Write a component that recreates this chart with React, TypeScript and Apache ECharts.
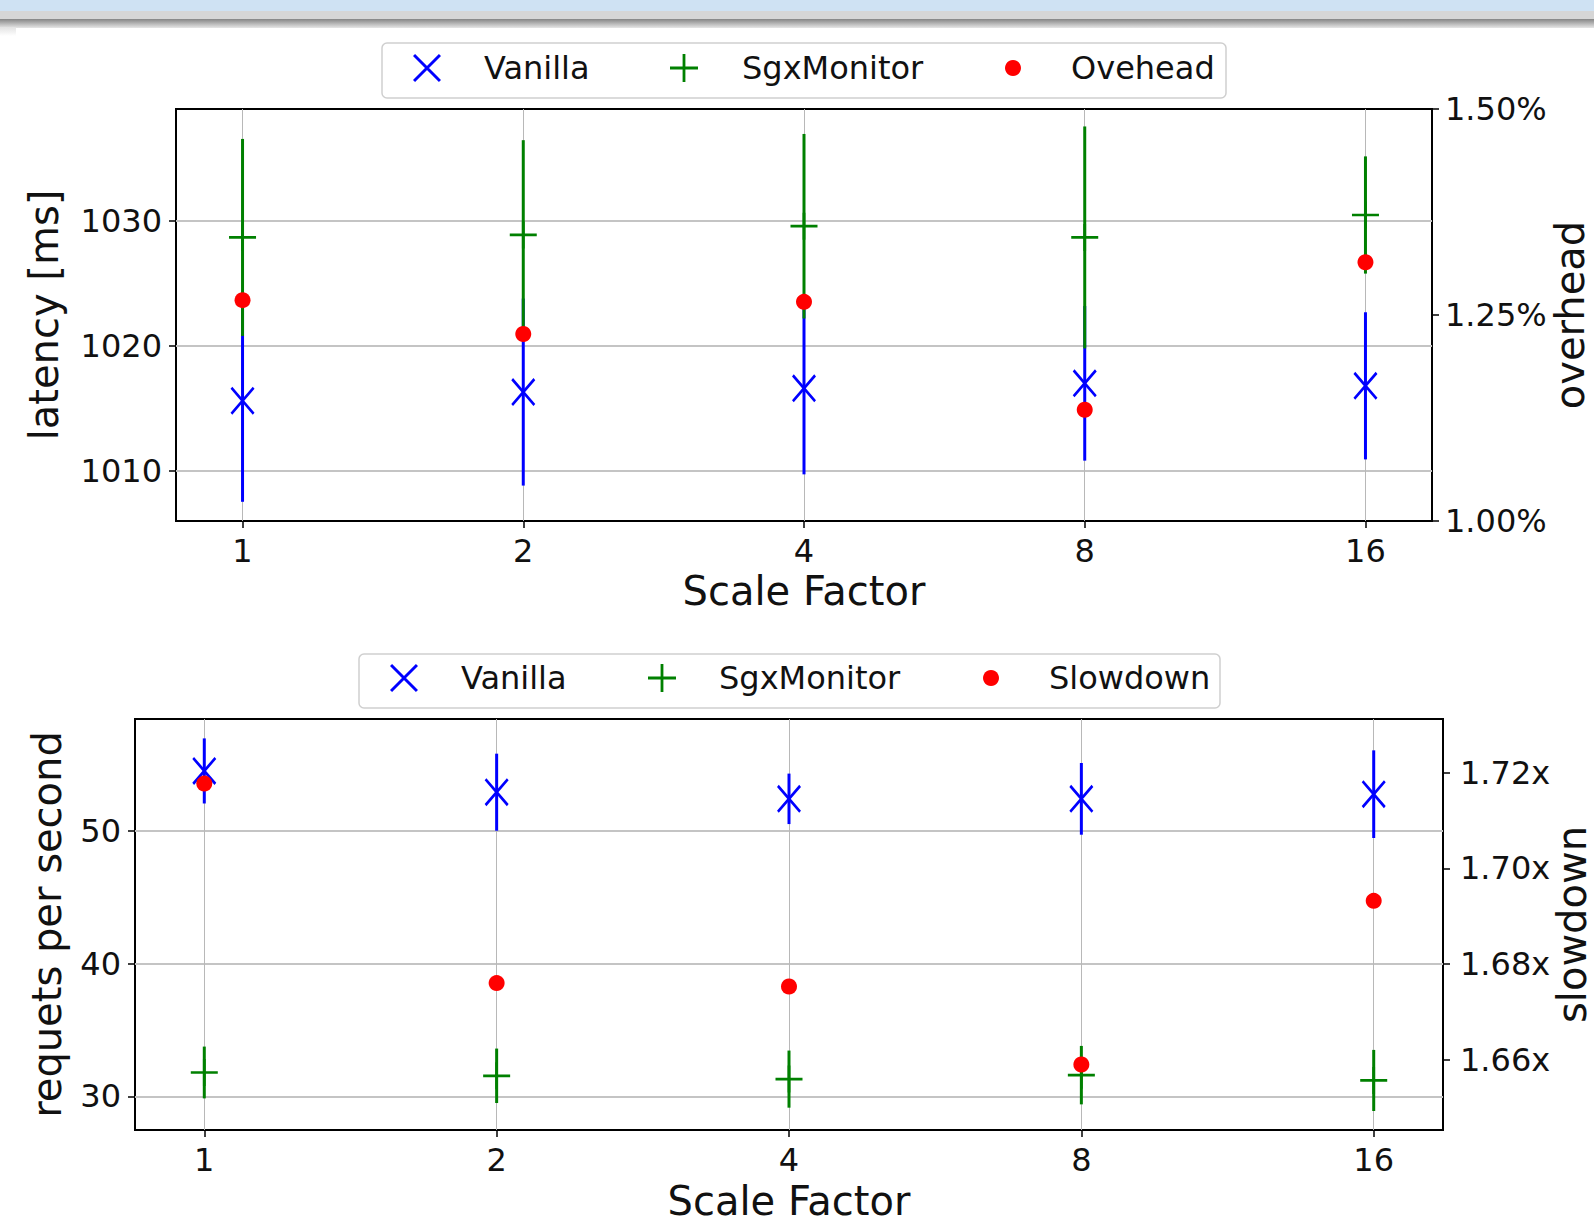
import React, { useEffect, useRef } from 'react';
import * as echarts from 'echarts';

// ---------- data ----------
const scaleFactors = ['1', '2', '4', '8', '16'];
const xIndex = [0, 1, 2, 3, 4];

const latencyVanilla = [1015.6, 1016.3, 1016.6, 1017.0, 1016.8];
const latencyVanillaErr = [8.1, 7.5, 6.9, 6.2, 5.9];
const latencySgx = [1028.7, 1028.9, 1029.6, 1028.7, 1030.5];
const latencySgxErr = [7.9, 7.6, 7.4, 8.9, 4.7];
const overheadPct = [1.268, 1.227, 1.266, 1.135, 1.314];

const rpsVanilla = [54.5, 52.9, 52.4, 52.4, 52.75];
const rpsVanillaErr = [2.45, 2.9, 1.9, 2.7, 3.3];
const rpsSgx = [31.8, 31.55, 31.3, 31.6, 31.2];
const rpsSgxErr = [1.95, 2.05, 2.15, 2.2, 2.3];
const slowdown = [1.7177, 1.676, 1.6753, 1.659, 1.6932];

const latencyTicks = [1010, 1020, 1030];
const overheadTicks = [1.0, 1.25, 1.5];
const rpsTicks = [30, 40, 50];
const slowdownTicks = [1.66, 1.68, 1.7, 1.72];

// ---------- styling ----------
const FONT = 'DejaVu Sans';
const TXT = '#111111';
const BLUE = '#0000ff';
const GREEN = '#008000';
const RED = '#ff0000';
const X_PATH = 'path://M4,-4L104,96L96,104L-4,4ZM104,4L4,104L-4,96L96,-4Z';
const PLUS_PATH = 'path://M45,0L55,0L55,45L100,45L100,55L55,55L55,100L45,100L45,55L0,55L0,45L45,45Z';

function xAxisCfg(gridIndex: number, nameGap: number) {
  return {
    type: 'value',
    gridIndex,
    min: -0.237,
    max: 4.237,
    axisLine: { show: false, onZero: false },
    axisTick: { show: true, customValues: xIndex, length: 7, lineStyle: { color: '#000', width: 1.5 } },
    axisLabel: {
      customValues: xIndex,
      formatter: (v: number) => scaleFactors[Math.round(v)] ?? '',
      fontSize: 32,
      fontFamily: FONT,
      color: TXT,
      margin: 14,
    },
    splitLine: { show: true, lineStyle: { color: '#b8b8b8', width: 1 } },
    name: 'Scale Factor',
    nameLocation: 'middle',
    nameGap,
    nameMoveOverlap: false,
    nameTextStyle: { fontSize: 40, fontFamily: FONT, color: TXT },
  };
}

function yAxisCfg(
  gridIndex: number,
  position: string,
  min: number,
  max: number,
  ticks: number[],
  fmt: (v: number) => string,
  name: string,
  nameGap: number,
  margin: number,
  grid: boolean
) {
  return {
    type: 'value',
    gridIndex,
    position,
    min,
    max,
    axisLine: { show: false, onZero: false },
    axisTick: { show: true, customValues: ticks, length: 7, lineStyle: { color: '#000', width: 1.5 } },
    axisLabel: { customValues: ticks, formatter: fmt, fontSize: 32, fontFamily: FONT, color: TXT, margin },
    splitLine: { show: grid, lineStyle: { color: '#c4c4c4', width: 2 } },
    name,
    nameLocation: 'middle',
    nameGap,
    nameMoveOverlap: false,
    nameTextStyle: { fontSize: 40, fontFamily: FONT, color: TXT },
  };
}

function markerSeries(name: string, color: string, symbol: string, size: any, values: number[], xi: number, yi: number) {
  return {
    type: 'scatter',
    name,
    xAxisIndex: xi,
    yAxisIndex: yi,
    data: values.map((v, i) => [xIndex[i], v]),
    symbol,
    symbolSize: size,
    itemStyle: { color, opacity: 1 },
    silent: true,
  };
}

function errorSeries(name: string, color: string, mean: number[], err: number[], xi: number, yi: number) {
  return {
    type: 'custom',
    name,
    xAxisIndex: xi,
    yAxisIndex: yi,
    data: mean.map((m, i) => [xIndex[i], m - err[i], m + err[i]]),
    encode: { x: 0, y: [1, 2] },
    itemStyle: { color },
    silent: true,
    renderItem: (params: any, api: any) => {
      const lo = api.coord([api.value(0), api.value(1)]);
      const hi = api.coord([api.value(0), api.value(2)]);
      return {
        type: 'line',
        shape: { x1: lo[0], y1: lo[1], x2: hi[0], y2: hi[1] },
        style: { stroke: color, lineWidth: 3 },
      };
    },
  };
}

function legendItem(name: string, icon: string, left: number, top: number, w: number, h: number, pad: number) {
  return {
    show: true,
    data: [{ name, icon }],
    left,
    top,
    padding: 0,
    itemGap: 0,
    itemWidth: w,
    itemHeight: h,
    selectedMode: false,
    z: 5,
    textStyle: { fontSize: 32, fontFamily: FONT, color: TXT, lineHeight: 36, padding: [0, 0, 0, pad] },
  };
}

export default function App() {
  const ref = useRef<HTMLDivElement>(null);

  useEffect(() => {
    if (!ref.current) return;
    const chart = echarts.init(ref.current, null, { renderer: 'svg' });

    const option: any = {
      animation: false,
      backgroundColor: '#ffffff',
      textStyle: { fontFamily: FONT },
      grid: [
        { left: 176, right: 162, top: 109, height: 412, show: true, borderColor: '#000', borderWidth: 2, backgroundColor: 'transparent', containLabel: false, outerBoundsMode: 'none' },
        { left: 135, right: 151, top: 719, height: 411, show: true, borderColor: '#000', borderWidth: 2, backgroundColor: 'transparent', containLabel: false, outerBoundsMode: 'none' },
      ],
      xAxis: [xAxisCfg(0, 50), xAxisCfg(1, 51)],
      yAxis: [
        yAxisCfg(0, 'left', 1005.96, 1039.0, latencyTicks, (v) => String(Math.round(v)), 'latency [ms]', 112, 14, true),
        yAxisCfg(0, 'right', 1.0, 1.5, overheadTicks, (v) => v.toFixed(2) + '%', 'overhead', 118, 13, false),
        yAxisCfg(1, 'left', 27.47, 58.41, rpsTicks, (v) => String(Math.round(v)), 'requets per second', 68, 14, true),
        yAxisCfg(1, 'right', 1.6453, 1.7312, slowdownTicks, (v) => v.toFixed(2) + 'x', 'slowdown', 109, 17, false),
      ],
      legend: [
        legendItem('Vanilla', X_PATH, 413, 50, 28, 28, 38),
        legendItem('SgxMonitor', PLUS_PATH, 670, 50, 28, 28, 39),
        legendItem('Ovehead', 'circle', 1005, 50, 16, 16, 45),
        legendItem('Vanilla', X_PATH, 390, 660, 28, 28, 38),
        legendItem('SgxMonitor', PLUS_PATH, 648, 660, 28, 28, 38),
        legendItem('Slowdown', 'circle', 983, 660, 16, 16, 45),
      ],
      graphic: [
        { type: 'rect', z: 1, shape: { x: 0, y: 0, width: 1594, height: 11 }, style: { fill: '#cfe2f3' } },
        { type: 'rect', z: 1, shape: { x: 0, y: 11, width: 1594, height: 8 }, style: { fill: '#d6d6d6' } },
        {
          type: 'rect', z: 1, shape: { x: 0, y: 19, width: 1594, height: 9 },
          style: { fill: new echarts.graphic.LinearGradient(0, 0, 0, 1, [{ offset: 0, color: '#858585' }, { offset: 1, color: '#e6e6e6' }]) },
        },
        {
          type: 'rect', z: 1, shape: { x: 0, y: 27, width: 16, height: 9 },
          style: { fill: new echarts.graphic.LinearGradient(0, 0, 0, 1, [{ offset: 0, color: '#e2e2e2' }, { offset: 1, color: '#ffffff' }]) },
        },
        { type: 'rect', z: 1, shape: { x: 382, y: 43, width: 844, height: 55, r: 5 }, style: { fill: '#ffffff', stroke: '#cfcfcf', lineWidth: 1.5 } },
        { type: 'rect', z: 1, shape: { x: 359, y: 654, width: 861, height: 54, r: 5 }, style: { fill: '#ffffff', stroke: '#cfcfcf', lineWidth: 1.5 } },
      ],
      series: [
        markerSeries('Vanilla', BLUE, X_PATH, [24, 28], latencyVanilla, 0, 0),
        errorSeries('Vanilla', BLUE, latencyVanilla, latencyVanillaErr, 0, 0),
        markerSeries('SgxMonitor', GREEN, PLUS_PATH, [27, 27], latencySgx, 0, 0),
        errorSeries('SgxMonitor', GREEN, latencySgx, latencySgxErr, 0, 0),
        markerSeries('Ovehead', RED, 'circle', 16, overheadPct, 0, 1),

        markerSeries('Vanilla', BLUE, X_PATH, [24, 28], rpsVanilla, 1, 2),
        errorSeries('Vanilla', BLUE, rpsVanilla, rpsVanillaErr, 1, 2),
        markerSeries('SgxMonitor', GREEN, PLUS_PATH, [27, 27], rpsSgx, 1, 2),
        errorSeries('SgxMonitor', GREEN, rpsSgx, rpsSgxErr, 1, 2),
        markerSeries('Slowdown', RED, 'circle', 16, slowdown, 1, 3),
      ],
    };

    chart.setOption(option);
    return () => chart.dispose();
  }, []);

  return <div ref={ref} style={{ position: 'absolute', left: 0, top: 0, width: 1594, height: 1216 }} />;
}
